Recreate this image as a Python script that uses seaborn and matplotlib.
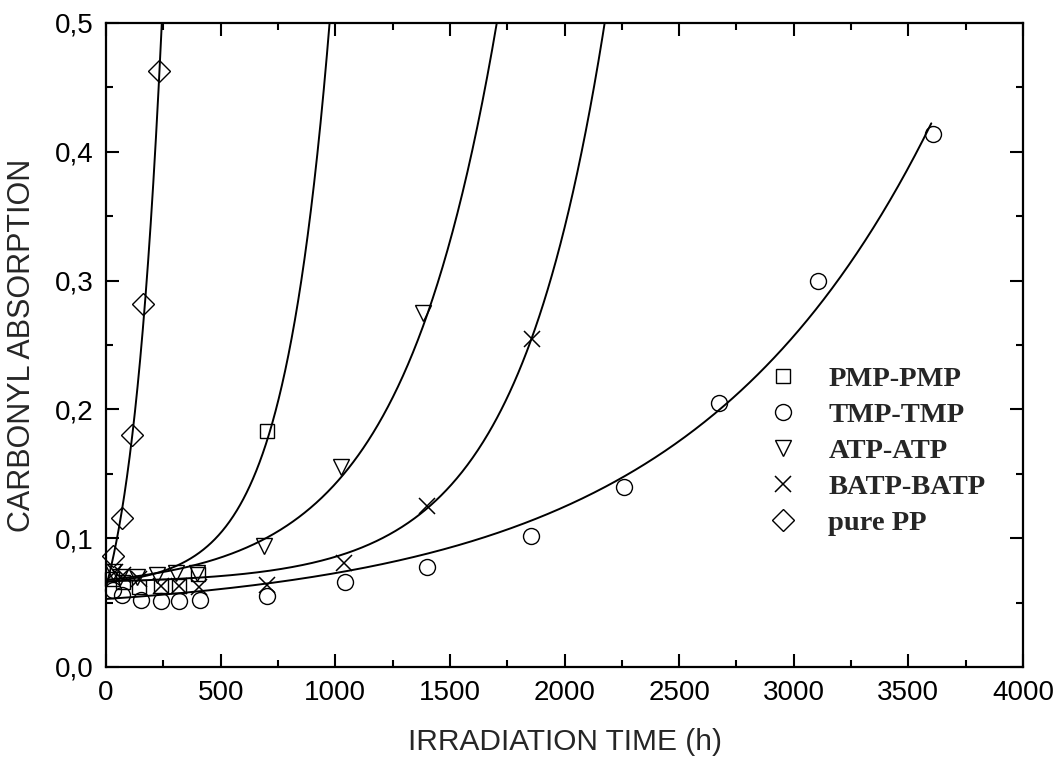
import numpy as np
import pandas as pd
import matplotlib
matplotlib.use("Agg")
import matplotlib.pyplot as plt
from matplotlib.ticker import MultipleLocator, FuncFormatter
import seaborn as sns

# Measured carbonyl absorption vs. irradiation time (h)
pmp_t = [25, 75, 145, 240, 320, 400, 703]
pmp_y = [0.068, 0.066, 0.062, 0.063, 0.063, 0.072, 0.183]

tmp_t = [29, 68, 152, 240, 319, 408, 702, 1042, 1399, 1856, 2261, 2676, 3106, 3606]
tmp_y = [0.060, 0.056, 0.052, 0.051, 0.051, 0.052, 0.055, 0.066, 0.078, 0.102,
         0.140, 0.205, 0.300, 0.414]

atp_t = [30, 61, 134, 221, 306, 396, 688, 1023, 1383]
atp_y = [0.074, 0.070, 0.070, 0.0715, 0.073, 0.073, 0.0936, 0.155, 0.275]

batp_t = [39, 75, 145, 240, 319, 406, 702, 1037, 1401, 1857]
batp_y = [0.074, 0.0715, 0.068, 0.063, 0.063, 0.0624, 0.0638, 0.081, 0.125, 0.255]

pp_t = [32, 70, 115, 163, 233]
pp_y = [0.086, 0.116, 0.180, 0.282, 0.463]

series_names = ["PMP-PMP", "TMP-TMP", "ATP-ATP", "BATP-BATP", "pure PP"]

# Exponential growth fits y = y0 + A*exp(t/tau)
fit_y0 = [0.0625, 0.040, 0.060, 0.065, -0.030]
fit_amp = [0.0035, 0.0128, 0.0076, 0.00153, 0.092]
fit_tau = [202, 1060, 420, 385, 139]
fit_end = [1000, 3600, 1800, 2300, 260]

x_ticks = [0, 500, 1000, 1500, 2000, 2500, 3000, 3500, 4000]
y_ticks = [0.0, 0.1, 0.2, 0.3, 0.4, 0.5]

times = [pmp_t, tmp_t, atp_t, batp_t, pp_t]
values = [pmp_y, tmp_y, atp_y, batp_y, pp_y]
markers = ["s", "o", "v", "x", "D"]
msizes = [10.5, 11.5, 12, 12, 11]

sns.set_style("ticks")
plt.rcParams["font.family"] = ["Liberation Sans", "DejaVu Sans"]

fig = plt.figure(figsize=(10.54, 7.57), dpi=100)
ax = fig.add_axes([106 / 1054, 90 / 757, 917 / 1054, 644 / 757])

for name, t, y, m, ms, y0, a, tau, end in zip(series_names, times, values, markers,
                                               msizes, fit_y0, fit_amp, fit_tau, fit_end):
    xs = np.linspace(0, end, 500)
    curve = pd.DataFrame({"t": xs, "y": y0 + a * np.exp(xs / tau)})
    sns.lineplot(data=curve, x="t", y="y", color="black", linewidth=1.4, ax=ax,
                 legend=False)
    pts = pd.DataFrame({"t": t, "y": y})
    if m == "x":
        ax.plot(pts["t"], pts["y"], linestyle="", marker=m, ms=ms, mew=1.1,
                color="black", label=name, clip_on=False)
    else:
        ax.plot(pts["t"], pts["y"], linestyle="", marker=m, ms=ms, mew=1.0,
                mfc="none", mec="black", label=name, clip_on=False)

ax.set_xlim(0, 4000)
ax.set_ylim(0, 0.5)
ax.set_xticks(x_ticks)
ax.set_yticks(y_ticks)
ax.xaxis.set_minor_locator(MultipleLocator(250))
ax.yaxis.set_minor_locator(MultipleLocator(0.05))
ax.yaxis.set_major_formatter(FuncFormatter(lambda v, p: f"{v:.1f}".replace(".", ",")))
ax.tick_params(which="both", direction="in", top=True, right=True, width=1.5,
               labelsize=20, colors="black")
ax.tick_params(which="major", length=9.5, pad=9)
ax.tick_params(which="minor", length=5)
for s in ax.spines.values():
    s.set_linewidth(1.6)
    s.set_color("black")

ax.set_xlabel("IRRADIATION TIME (h)", fontsize=21.5, labelpad=16)
ax.set_ylabel("CARBONYL ABSORPTION", fontsize=22, labelpad=13)

leg = ax.legend(loc="upper left", bbox_to_anchor=(0.7225, 0.468), frameon=False,
                prop={"family": ["Liberation Serif", "DejaVu Serif"], "weight": "bold",
                      "size": 20.5},
                handlelength=1.0, handletextpad=1.1, labelspacing=0.36,
                borderpad=0, borderaxespad=0)

fig.savefig("out.png", dpi=100)
